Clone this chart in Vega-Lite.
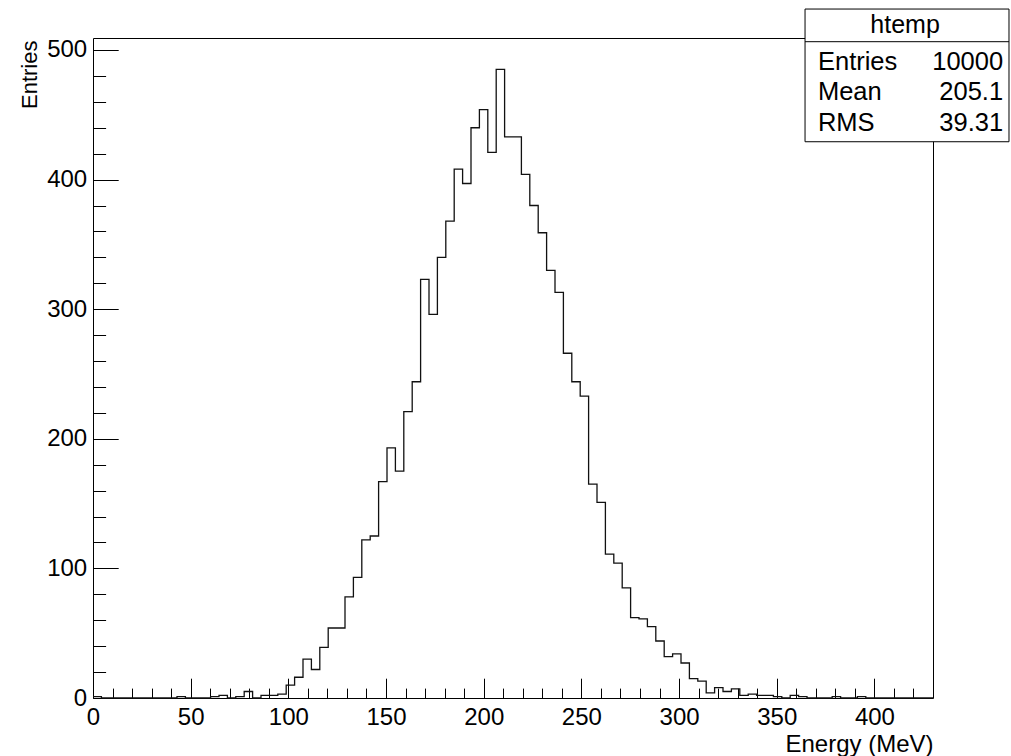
{
  "$schema": "https://vega.github.io/schema/vega-lite/v6.json",
  "autosize": {"type": "none"},
  "padding": {"left": 93, "top": 38, "right": 78, "bottom": 58},
  "width": 840,
  "height": 660,
  "background": "white",
  "config": {
    "font": "Liberation Sans",
    "view": {"stroke": "#000", "strokeWidth": 1},
    "axis": {"domain": false, "grid": false, "tickColor": "#000", "tickWidth": 1, "labelColor": "#000", "titleColor": "#000", "labelFontSize": 24, "titleFontSize": 24, "titleFontWeight": "normal", "labelFont": "Liberation Sans", "titleFont": "Liberation Sans", "labelOverlap": false, "labelBound": false, "labelFlush": false, "tickCount": 200}
  },
  "datasets": {
    "hist": [
      {"E": 0, "n": 1}, {"E": 4.3, "n": 0}, {"E": 8.6, "n": 0}, {"E": 12.9, "n": 0}, {"E": 17.2, "n": 0},
      {"E": 21.5, "n": 0}, {"E": 25.8, "n": 0}, {"E": 30.1, "n": 0}, {"E": 34.4, "n": 0}, {"E": 38.7, "n": 0},
      {"E": 43, "n": 1}, {"E": 47.3, "n": 0}, {"E": 51.6, "n": 0}, {"E": 55.9, "n": 0}, {"E": 60.2, "n": 1},
      {"E": 64.5, "n": 2}, {"E": 68.8, "n": 0}, {"E": 73.1, "n": 1}, {"E": 77.4, "n": 5}, {"E": 81.7, "n": 0},
      {"E": 86, "n": 2}, {"E": 90.3, "n": 2}, {"E": 94.6, "n": 3}, {"E": 98.9, "n": 10}, {"E": 103.2, "n": 16},
      {"E": 107.5, "n": 30}, {"E": 111.8, "n": 22}, {"E": 116.1, "n": 39}, {"E": 120.4, "n": 54}, {"E": 124.7, "n": 54},
      {"E": 129, "n": 78}, {"E": 133.3, "n": 93}, {"E": 137.6, "n": 122}, {"E": 141.9, "n": 125}, {"E": 146.2, "n": 167},
      {"E": 150.5, "n": 193}, {"E": 154.8, "n": 175}, {"E": 159.1, "n": 221}, {"E": 163.4, "n": 244}, {"E": 167.7, "n": 323},
      {"E": 172, "n": 296}, {"E": 176.3, "n": 340}, {"E": 180.6, "n": 368}, {"E": 184.9, "n": 408}, {"E": 189.2, "n": 397},
      {"E": 193.5, "n": 440}, {"E": 197.8, "n": 454}, {"E": 202.1, "n": 421}, {"E": 206.4, "n": 485}, {"E": 210.7, "n": 433},
      {"E": 215, "n": 433}, {"E": 219.3, "n": 404}, {"E": 223.6, "n": 380}, {"E": 227.9, "n": 359}, {"E": 232.2, "n": 330},
      {"E": 236.5, "n": 313}, {"E": 240.8, "n": 266}, {"E": 245.1, "n": 244}, {"E": 249.4, "n": 233}, {"E": 253.7, "n": 165},
      {"E": 258, "n": 151}, {"E": 262.3, "n": 111}, {"E": 266.6, "n": 104}, {"E": 270.9, "n": 85}, {"E": 275.2, "n": 62},
      {"E": 279.5, "n": 61}, {"E": 283.8, "n": 55}, {"E": 288.1, "n": 44}, {"E": 292.4, "n": 32}, {"E": 296.7, "n": 34},
      {"E": 301, "n": 27}, {"E": 305.3, "n": 15}, {"E": 309.6, "n": 13}, {"E": 313.9, "n": 4}, {"E": 318.2, "n": 8},
      {"E": 322.5, "n": 5}, {"E": 326.8, "n": 7}, {"E": 331.1, "n": 2}, {"E": 335.4, "n": 3}, {"E": 339.7, "n": 2},
      {"E": 344, "n": 2}, {"E": 348.3, "n": 1}, {"E": 352.6, "n": 0}, {"E": 356.9, "n": 2}, {"E": 361.2, "n": 1},
      {"E": 365.5, "n": 0}, {"E": 369.8, "n": 0}, {"E": 374.1, "n": 0}, {"E": 378.4, "n": 1}, {"E": 382.7, "n": 0},
      {"E": 387, "n": 0}, {"E": 391.3, "n": 1}, {"E": 395.6, "n": 0}, {"E": 399.9, "n": 0}, {"E": 404.2, "n": 0},
      {"E": 408.5, "n": 0}, {"E": 412.8, "n": 0}, {"E": 417.1, "n": 0}, {"E": 421.4, "n": 0}, {"E": 425.7, "n": 0},
      {"E": 430, "n": 0}
    ],
    "stats": [
      {"k": "Entries", "v": "10000"},
      {"k": "Mean", "v": "205.1"},
      {"k": "RMS", "v": "39.31"}
    ],
    "box": [{"name": "htemp"}]
  },
  "layer": [
    {
      "data": {"name": "hist"},
      "mark": {"type": "line", "interpolate": "step-after", "color": "#111", "strokeWidth": 1.3},
      "encoding": {
        "x": {"field": "E", "type": "quantitative", "scale": {"domain": [0, 430], "nice": false, "zero": false},
          "axis": {"title": "Energy (MeV)", "tickCount": 200, "values": [0,10,20,30,40,50,60,70,80,90,100,110,120,130,140,150,160,170,180,190,200,210,220,230,240,250,260,270,280,290,300,310,320,330,340,350,360,370,380,390,400,410,420],
            "tickSize": {"condition": {"test": "datum.value % 50 === 0", "value": -19.8}, "value": -9.9},
            "labelExpr": "datum.value % 50 === 0 ? datum.label : ''",
            "labelPadding": 27.3, "labelAlign": "center", "labelBaseline": "top",
            "titleAnchor": "end", "titleAlign": "right", "titleBaseline": "alphabetic", "titleX": 840, "titleY": 53}},
        "y": {"field": "n", "type": "quantitative", "scale": {"domain": [0, 509.25], "nice": false, "zero": true},
          "axis": {"title": "Entries", "tickCount": 200, "values": [0,20,40,60,80,100,120,140,160,180,200,220,240,260,280,300,320,340,360,380,400,420,440,460,480,500],
            "tickSize": {"condition": {"test": "datum.value % 100 === 0", "value": -25.2}, "value": -12.6},
            "labelExpr": "datum.value % 100 === 0 ? datum.label : ''",
            "labelPadding": 31.5, "labelAlign": "right", "labelBaseline": "middle",
            "titleFontSize": 22, "titleAnchor": "end", "titleAlign": "right", "titleAngle": 270, "titleBaseline": "alphabetic", "titleX": -57, "titleY": 2}}
      }
    },
    {
      "data": {"name": "box"},
      "mark": {"type": "rect", "fill": "white", "stroke": "#000", "strokeWidth": 1},
      "encoding": {
        "x": {"datum": 364.5}, "x2": {"datum": 468.9},
        "y": {"datum": 531.6}, "y2": {"datum": 429.2}
      }
    },
    {
      "data": {"name": "box"},
      "mark": {"type": "rule", "stroke": "#000", "strokeWidth": 1},
      "encoding": {
        "x": {"datum": 364.5}, "x2": {"datum": 468.9},
        "y": {"datum": 506.4}
      }
    },
    {
      "data": {"name": "box"},
      "mark": {"type": "text", "fontSize": 25, "align": "center", "baseline": "middle", "color": "#000"},
      "encoding": {
        "x": {"datum": 415.7}, "y": {"datum": 519.3},
        "text": {"field": "name"}
      }
    },
    {
      "data": {"name": "stats"},
      "transform": [{"filter": "datum.k === 'Entries'"}],
      "layer": [
        {"mark": {"type": "text", "fontSize": 25.5, "align": "left", "baseline": "middle", "color": "#000"},
         "encoding": {"x": {"datum": 371.1}, "y": {"datum": 491.0}, "text": {"field": "k"}}},
        {"mark": {"type": "text", "fontSize": 25.5, "align": "right", "baseline": "middle", "color": "#000"},
         "encoding": {"x": {"datum": 465.9}, "y": {"datum": 491.0}, "text": {"field": "v"}}}
      ]
    },
    {
      "data": {"name": "stats"},
      "transform": [{"filter": "datum.k === 'Mean'"}],
      "layer": [
        {"mark": {"type": "text", "fontSize": 25.5, "align": "left", "baseline": "middle", "color": "#000"},
         "encoding": {"x": {"datum": 371.1}, "y": {"datum": 467.8}, "text": {"field": "k"}}},
        {"mark": {"type": "text", "fontSize": 25.5, "align": "right", "baseline": "middle", "color": "#000"},
         "encoding": {"x": {"datum": 465.9}, "y": {"datum": 467.8}, "text": {"field": "v"}}}
      ]
    },
    {
      "data": {"name": "stats"},
      "transform": [{"filter": "datum.k === 'RMS'"}],
      "layer": [
        {"mark": {"type": "text", "fontSize": 25.5, "align": "left", "baseline": "middle", "color": "#000"},
         "encoding": {"x": {"datum": 371.1}, "y": {"datum": 443.4}, "text": {"field": "k"}}},
        {"mark": {"type": "text", "fontSize": 25.5, "align": "right", "baseline": "middle", "color": "#000"},
         "encoding": {"x": {"datum": 465.9}, "y": {"datum": 443.4}, "text": {"field": "v"}}}
      ]
    }
  ]
}
